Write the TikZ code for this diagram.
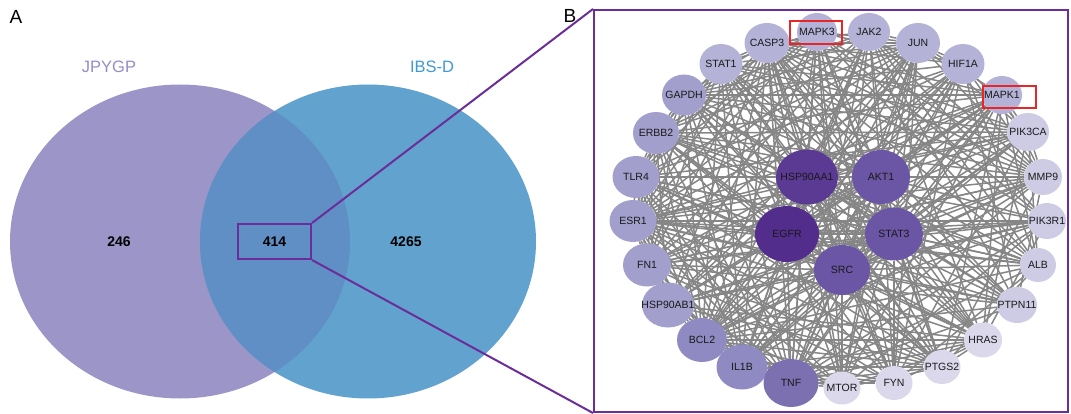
\documentclass[tikz,border=0pt]{standalone}
\usepackage{fontspec}
\setmainfont{Liberation Sans}
\usetikzlibrary{shapes.geometric}

\pgfdeclarelayer{edges}
\pgfsetlayers{edges,main}

% Venn colours
\definecolor{venpurple}{RGB}{155,149,200}
\definecolor{venblue}{RGB}{98,162,206}
\definecolor{venmix}{RGB}{95,143,196}
\definecolor{jpygptext}{RGB}{150,140,200}
\definecolor{ibstext}{RGB}{62,154,210}
\definecolor{framepurple}{RGB}{107,45,154}
\definecolor{redmark}{RGB}{232,38,42}
\definecolor{edgegray}{RGB}{134,134,134}

% Node shades, light to dark
\definecolor{lvA}{RGB}{218,216,234}
\definecolor{lvB}{RGB}{206,204,228}
\definecolor{lvC}{RGB}{181,178,215}
\definecolor{lvD}{RGB}{163,159,204}
\definecolor{lvE}{RGB}{144,138,194}
\definecolor{lvF}{RGB}{124,112,177}
\definecolor{lvG}{RGB}{106,86,165}
\definecolor{lvH}{RGB}{90,58,147}
\definecolor{lvI}{RGB}{82,45,140}

% labels may spill over the ellipse, so keep them out of its size
\newbox\genebox

\tikzset{
  gene/.style={ellipse, inner sep=0pt, text=black!90,
    font=\fontsize{10.5}{12}\selectfont,
    execute at begin node={\setbox\genebox=\hbox\bgroup},
    execute at end node={\egroup\hbox to 0pt{\hss\box\genebox\hss}}},
  sz/.style 2 args={minimum width=#1, minimum height=#2},
  ppi/.style={edgegray, line width=1.5pt},
  zoomline/.style={framepurple, line width=2pt},
  markbox/.style={draw=redmark, line width=1.6pt},
}

% gene/weight list for the edges
\def\genelist{EGFR/9,HSP90AA1/9,AKT1/8,STAT3/8,SRC/8,TNF/7,BCL2/6,IL1B/6,
  GAPDH/5,ERBB2/5,TLR4/5,ESR1/5,FN1/5,HSP90AB1/5,
  MAPK3/4,JAK2/4,CASP3/4,JUN/4,STAT1/4,HIF1A/4,MAPK1/4,
  PIK3CA/3,MMP9/3,PIK3R1/3,ALB/3,PTPN11/3,HRAS/3,PTGS2/3,FYN/3,MTOR/3}

\begin{document}
\begin{tikzpicture}[x=1pt, y=-1pt]
    \useasboundingbox (0,0) rectangle (1071,414);

    % Panel letters
    \node[font=\fontsize{19}{22}\selectfont] (labA) at (16,17) {A};
    \node[font=\fontsize{19}{22}\selectfont] (labB) at (570,16) {B};

    % Venn diagram
    \fill[venpurple] (180,241.5) ellipse [x radius=170, y radius=157];
    \fill[venblue] (368,241.5) ellipse [x radius=168, y radius=157];
    \begin{scope}
      \clip (180,241.5) ellipse [x radius=170, y radius=157];
      \fill[venmix] (368,241.5) ellipse [x radius=168, y radius=157];
    \end{scope}

    % Set names and counts
    \node[text=jpygptext, font=\fontsize{16.5}{20}\selectfont] (jpygp) at (109,67) {JPYGP};
    \node[text=ibstext, font=\fontsize{16.5}{20}\selectfont] (ibsd) at (432,67) {IBS-D};
    \node[font=\fontsize{14}{16}\selectfont\bfseries] (only1) at (119,242) {246};
    \node[font=\fontsize{14}{16}\selectfont\bfseries] (only2) at (406,242) {4265};
    \node[draw=framepurple, line width=2pt, sz={73}{35}, inner sep=0pt,
      font=\fontsize{14}{16}\selectfont\bfseries] (common) at (274.5,241.5) {414};

    % Network frame and zoom lines
    \node[draw=framepurple, line width=2pt, sz={474}{402}, inner sep=0pt] (netframe) at (831,211) {};
    \draw[zoomline] (common.north east) -- (netframe.north west);
    \draw[zoomline] (common.south east) -- (netframe.south west);

    % Core genes
    \node[gene, fill=lvH, sz={62}{55}] (HSP90AA1) at (807,177) {HSP90AA1};
    \node[gene, fill=lvG, sz={58}{54}] (AKT1) at (881,177) {AKT1};
    \node[gene, fill=lvI, sz={64}{56}] (EGFR) at (787,234) {EGFR};
    \node[gene, fill=lvG, sz={58}{53}] (STAT3) at (894,234) {STAT3};
    \node[gene, fill=lvG, sz={56}{50}] (SRC) at (842,270) {SRC};

    % Outer ring, top
    \node[gene, fill=lvC, sz={40}{38}] (MAPK3) at (817,32) {MAPK3};
    \node[gene, fill=lvC, sz={42}{38}] (JAK2) at (869,32) {JAK2};
    \node[gene, fill=lvC, sz={45}{40}] (CASP3) at (767,43) {CASP3};
    \node[gene, fill=lvC, sz={44}{40}] (JUN) at (918,43) {JUN};
    \node[gene, fill=lvC, sz={43}{40}] (STAT1) at (721,64) {STAT1};
    \node[gene, fill=lvC, sz={43}{40}] (HIF1A) at (963,64) {HIF1A};
    \node[gene, fill=lvD, sz={44}{41}] (GAPDH) at (684,95) {GAPDH};
    \node[gene, fill=lvC, sz={40}{38}] (MAPK1) at (1002,95) {MAPK1};

    % Outer ring, sides
    \node[gene, fill=lvD, sz={46}{42}] (ERBB2) at (656,133) {ERBB2};
    \node[gene, fill=lvB, sz={42}{38}] (PIK3CA) at (1028,132) {PIK3CA};
    \node[gene, fill=lvD, sz={47}{42}] (TLR4) at (636,177) {TLR4};
    \node[gene, fill=lvB, sz={38}{36}] (MMP9) at (1043,177) {MMP9};
    \node[gene, fill=lvD, sz={47}{42}] (ESR1) at (633,221) {ESR1};
    \node[gene, fill=lvB, sz={38}{36}] (PIK3R1) at (1047,221) {PIK3R1};
    \node[gene, fill=lvD, sz={48}{43}] (FN1) at (647,265) {FN1};
    \node[gene, fill=lvB, sz={36}{34}] (ALB) at (1038,265) {ALB};

    % Outer ring, bottom
    \node[gene, fill=lvD, sz={52}{45}] (HSP90AB1) at (668,305) {HSP90AB1};
    \node[gene, fill=lvB, sz={40}{36}] (PTPN11) at (1017,305) {PTPN11};
    \node[gene, fill=lvE, sz={50}{44}] (BCL2) at (702,340) {BCL2};
    \node[gene, fill=lvA, sz={38}{35}] (HRAS) at (983,340) {HRAS};
    \node[gene, fill=lvE, sz={51}{45}] (IL1B) at (742,367) {IL1B};
    \node[gene, fill=lvA, sz={37}{34}] (PTGS2) at (942,367) {PTGS2};
    \node[gene, fill=lvF, sz={55}{48}] (TNF) at (791,383) {TNF};
    \node[gene, fill=lvA, sz={37}{33}] (MTOR) at (842,388) {MTOR};
    \node[gene, fill=lvA, sz={37}{34}] (FYN) at (894,383) {FYN};

    % Interactions
    \begin{pgfonlayer}{edges}
      \foreach \ga/\wa [count=\i] in \genelist {
        \foreach \gb/\wb [count=\j] in \genelist {
          \ifnum\j>\i
            \pgfmathtruncatemacro\r{mod(\i*37+\j*53+\i*\j*11,10)}
            \pgfmathtruncatemacro\s{\wa+\wb+\r}
            \ifnum\s>11 \draw[ppi] (\ga) -- (\gb); \fi
          \fi
        }
      }
    \end{pgfonlayer}

    % Highlighted genes
    \draw[markbox] (790,21) rectangle (842,44);
    \draw[markbox] (983,86) rectangle (1036,108);
\end{tikzpicture}
\end{document}
